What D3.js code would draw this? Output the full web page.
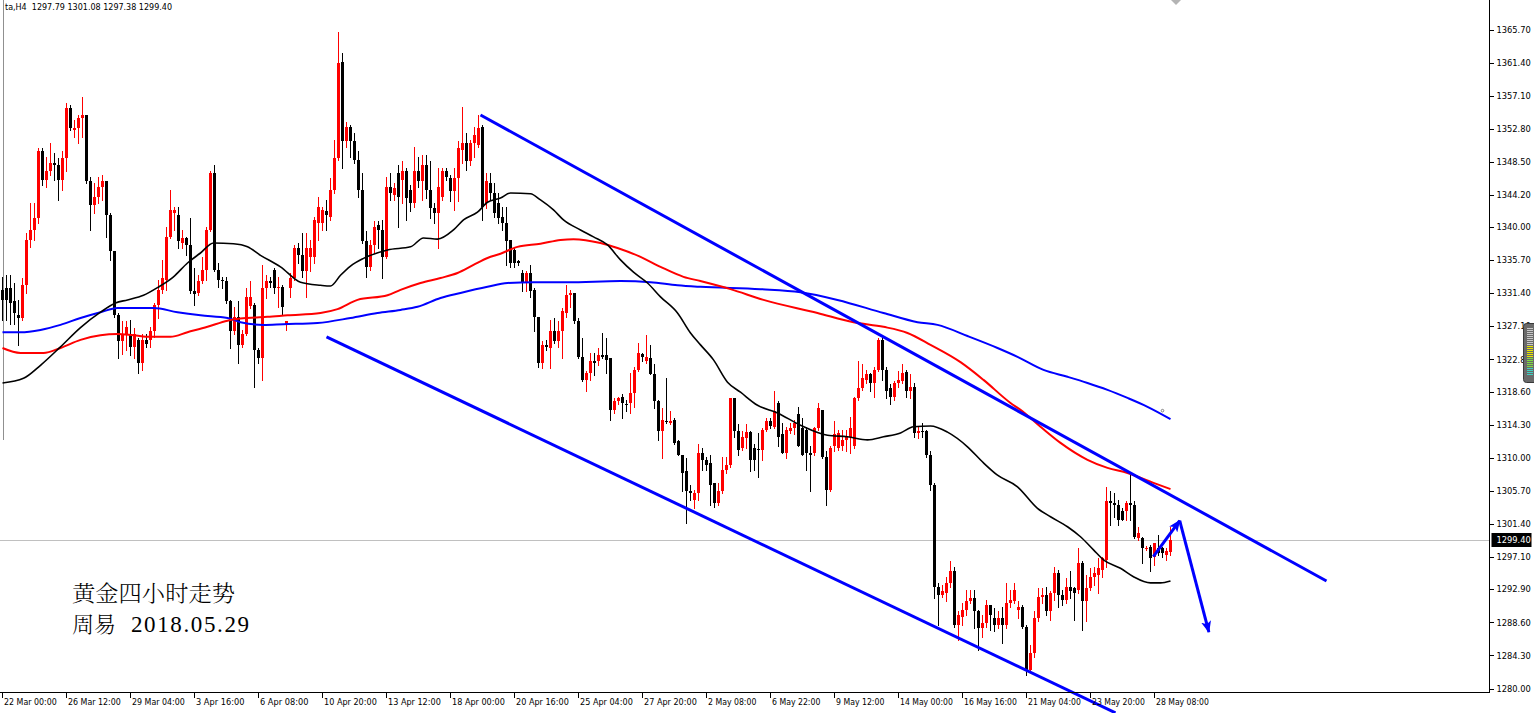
<!DOCTYPE html>
<html><head><meta charset="utf-8">
<script src="https://cdn.jsdelivr.net/npm/d3@7"></script>
<style>
html,body{margin:0;padding:0;background:#fff;overflow:hidden;}
svg{display:block;}
</style></head><body>
<svg id="c" width="1534" height="713"></svg>
<script>
// ---------------- data ----------------
const header = "ta,H4  1297.79 1301.08 1297.38 1299.40";
const timeLabels = ["22 Mar 00:00","26 Mar 12:00","29 Mar 04:00","3 Apr 16:00","6 Apr 08:00","10 Apr 20:00","13 Apr 12:00","18 Apr 00:00","20 Apr 16:00","25 Apr 04:00","27 Apr 20:00","2 May 08:00","6 May 22:00","9 May 12:00","14 May 00:00","16 May 16:00","21 May 04:00","23 May 20:00","28 May 08:00"];
const priceTicks = [1365.70,1361.40,1357.10,1352.80,1348.50,1344.20,1340.00,1335.70,1331.40,1327.10,1322.80,1318.60,1314.30,1310.00,1305.70,1301.40,1297.10,1292.90,1288.60,1284.30,1280.00];
const lastPrice = 1299.40;
// candles: [open, high, low, close], H4 bars
const candles = [
[1331.9,1333.6,1328.0,1330.6],[1332.1,1333.8,1328.0,1330.6],[1332.1,1333.8,1327.5,1330.2],[1330.4,1332.8,1327.5,1328.9],[1328.6,1330.6,1324.7,1328.2],
[1328.2,1333.4,1328.0,1332.5],[1332.5,1339.3,1331.5,1338.4],[1338.4,1343.2,1337.5,1339.7],[1339.7,1343.2,1338.4,1341.2],[1341.2,1350.3,1340.6,1349.9],
[1349.9,1350.3,1345.5,1346.2],[1346.2,1349.2,1345.3,1347.3],[1347.3,1351.0,1346.8,1348.4],[1348.4,1349.7,1346.2,1348.1],[1348.1,1349.0,1343.6,1346.2],
[1346.2,1349.9,1344.9,1349.0],[1349.0,1356.2,1347.3,1355.5],[1355.5,1355.9,1352.7,1352.9],[1352.7,1354.0,1351.8,1352.9],[1352.9,1354.6,1351.0,1354.2],
[1354.2,1357.0,1351.8,1354.6],[1354.6,1354.6,1345.8,1346.0],[1346.0,1346.6,1339.7,1342.9],[1342.9,1345.8,1341.9,1344.0],[1344.0,1346.6,1343.2,1345.3],
[1345.3,1346.8,1343.6,1346.0],[1346.0,1346.0,1338.8,1341.6],[1341.6,1341.9,1335.8,1336.9],[1336.9,1336.9,1328.4,1328.6],[1328.6,1328.9,1323.0,1325.2],
[1325.2,1327.8,1323.6,1326.2],[1326.0,1327.8,1324.1,1327.1],[1326.0,1328.0,1323.4,1324.5],[1324.5,1326.9,1323.0,1326.2],[1325.4,1325.6,1321.1,1322.4],
[1322.4,1326.2,1321.5,1325.4],[1325.4,1326.2,1324.5,1324.9],[1325.4,1327.1,1324.5,1326.5],[1326.5,1330.2,1325.8,1329.9],[1329.9,1333.2,1328.2,1331.9],
[1331.9,1335.8,1331.5,1333.4],[1333.2,1340.1,1331.9,1338.8],[1338.8,1344.9,1338.6,1342.3],[1341.9,1342.7,1339.7,1342.3],[1341.6,1342.7,1337.3,1338.2],
[1338.0,1339.7,1337.3,1338.6],[1338.6,1338.8,1336.4,1337.7],[1337.7,1341.2,1331.5,1331.7],[1331.7,1334.7,1329.9,1331.4],[1331.5,1333.8,1331.2,1333.0],
[1333.0,1336.2,1332.8,1334.5],[1334.5,1340.1,1333.2,1339.7],[1339.7,1347.3,1339.5,1347.1],[1347.1,1348.1,1334.3,1334.5],[1334.5,1335.4,1332.3,1333.2],
[1333.2,1333.6,1332.1,1333.0],[1333.0,1333.6,1330.2,1330.4],[1330.4,1330.6,1324.3,1326.5],[1326.5,1329.7,1326.2,1328.4],[1328.4,1330.4,1322.4,1324.7],
[1324.7,1326.7,1324.5,1326.2],[1326.2,1332.1,1326.0,1331.0],[1329.8,1333.0,1329.5,1331.0],[1329.9,1330.2,1319.3,1324.1],[1324.1,1324.3,1322.4,1323.0],
[1323.0,1335.1,1320.2,1332.1],[1332.1,1333.8,1330.8,1333.0],[1333.0,1333.6,1332.3,1332.8],[1334.5,1334.7,1331.5,1332.1],[1332.1,1333.6,1329.7,1332.3],
[1332.3,1332.5,1328.6,1329.7],[1327.5,1327.8,1326.7,1327.8],[1332.1,1334.1,1331.0,1333.4],[1333.4,1337.7,1333.2,1337.3],[1337.3,1338.0,1335.4,1336.4],
[1336.4,1339.3,1333.6,1334.3],[1334.3,1339.3,1331.0,1337.3],[1336.2,1338.4,1334.3,1337.3],[1336.2,1341.4,1335.4,1341.0],[1340.6,1344.0,1338.4,1342.7],
[1340.6,1342.7,1339.7,1342.3],[1342.1,1343.6,1339.7,1341.6],[1341.4,1346.4,1341.0,1344.9],[1344.9,1351.4,1344.5,1349.0],[1349.0,1365.5,1348.8,1361.4],
[1361.6,1362.7,1347.7,1351.2],[1351.2,1353.8,1350.5,1353.1],[1353.1,1353.3,1349.2,1351.2],[1351.2,1352.3,1348.4,1348.8],[1348.8,1349.9,1344.0,1344.9],
[1344.9,1347.1,1338.0,1338.2],[1338.2,1339.5,1333.6,1334.9],[1334.9,1338.4,1334.5,1337.7],[1337.7,1340.8,1336.7,1340.1],[1340.3,1340.8,1337.3,1339.7],
[1339.7,1341.0,1333.4,1336.2],[1336.2,1346.6,1336.0,1345.3],[1345.3,1347.1,1343.6,1344.5],[1344.2,1345.8,1343.6,1345.1],[1347.1,1348.1,1340.1,1344.0],
[1346.2,1348.6,1343.2,1347.3],[1347.3,1347.7,1341.0,1343.8],[1344.9,1345.5,1342.1,1343.2],[1343.2,1350.5,1342.7,1347.3],[1347.3,1349.2,1345.3,1346.0],
[1346.0,1349.4,1343.6,1348.1],[1348.1,1349.4,1343.8,1344.9],[1344.9,1348.6,1341.2,1342.5],[1342.5,1343.2,1340.6,1341.9],[1341.9,1347.7,1337.3,1345.3],
[1344.0,1347.7,1343.6,1347.3],[1347.3,1347.7,1346.2,1346.6],[1346.4,1346.8,1343.4,1344.7],[1344.7,1347.7,1342.3,1346.4],[1346.4,1351.2,1343.4,1350.3],
[1350.1,1355.7,1348.4,1351.0],[1351.0,1352.3,1347.5,1348.6],[1348.6,1351.4,1348.1,1351.0],[1351.0,1353.1,1349.2,1352.0],[1350.7,1354.6,1350.5,1352.9],
[1353.1,1353.3,1341.0,1342.7],[1343.2,1347.1,1342.5,1346.0],[1345.8,1347.1,1343.6,1344.5],[1344.5,1345.8,1341.4,1341.9],[1343.2,1344.5,1340.6,1341.2],
[1341.4,1342.7,1339.7,1340.6],[1340.6,1342.7,1335.1,1338.2],[1338.4,1338.4,1334.9,1335.4],[1337.1,1337.3,1334.9,1335.4],[1335.6,1335.8,1335.1,1335.4],
[1334.1,1334.5,1331.7,1332.8],[1332.8,1334.3,1331.7,1334.1],[1334.1,1335.1,1331.0,1331.7],[1331.9,1332.1,1326.5,1328.4],[1328.4,1328.4,1321.9,1322.4],
[1322.4,1325.2,1321.7,1324.7],[1324.7,1325.4,1324.1,1324.5],[1324.3,1328.0,1321.7,1326.5],[1326.5,1328.2,1325.0,1325.2],[1325.2,1327.8,1324.5,1326.5],
[1326.5,1329.5,1323.0,1329.1],[1328.9,1332.5,1328.4,1331.2],[1331.2,1331.9,1329.7,1331.5],[1331.5,1331.5,1327.6,1327.8],[1327.8,1328.2,1323.0,1323.2],
[1323.2,1325.6,1320.0,1320.2],[1320.2,1321.3,1318.7,1321.1],[1321.1,1323.7,1320.2,1322.6],[1322.6,1323.7,1320.8,1322.4],[1322.6,1324.3,1322.1,1323.4],
[1323.4,1326.3,1323.0,1323.2],[1323.4,1325.6,1321.1,1322.8],[1323.0,1323.0,1315.0,1316.3],[1316.3,1317.8,1315.9,1317.4],[1317.4,1318.0,1317.0,1317.9],
[1318.0,1318.3,1315.2,1317.2],[1317.1,1317.6,1316.1,1317.0],[1317.2,1321.1,1315.9,1318.5],[1318.5,1321.9,1316.7,1321.5],[1321.5,1325.0,1321.3,1323.7],
[1323.6,1323.7,1322.6,1323.2],[1322.6,1326.1,1322.4,1323.2],[1323.0,1324.8,1320.9,1320.9],[1321.0,1322.2,1316.5,1317.4],[1317.4,1317.6,1312.4,1313.5],
[1313.5,1316.5,1310.0,1315.0],[1314.9,1320.4,1314.6,1314.7],[1314.6,1316.1,1314.4,1314.9],[1315.0,1315.2,1311.8,1312.0],[1312.2,1312.4,1310.4,1310.4],
[1310.4,1310.4,1305.7,1308.1],[1308.3,1310.0,1301.6,1305.7],[1305.7,1306.5,1304.6,1305.5],[1304.6,1305.9,1303.5,1305.5],[1305.5,1311.8,1304.6,1310.7],
[1310.7,1311.3,1308.5,1309.8],[1309.8,1310.2,1308.5,1309.1],[1309.4,1310.4,1303.9,1306.5],[1306.8,1306.8,1303.7,1304.2],[1304.2,1306.8,1303.9,1305.7],
[1305.7,1310.2,1305.5,1308.5],[1308.5,1310.2,1308.1,1309.1],[1309.1,1317.9,1308.9,1317.8],[1317.8,1317.8,1312.8,1313.5],[1313.5,1314.4,1310.4,1311.1],
[1311.3,1313.5,1311.1,1312.8],[1312.6,1314.4,1311.3,1313.4],[1313.4,1313.5,1308.3,1309.8],[1311.3,1311.8,1308.5,1309.8],[1311.2,1313.3,1307.6,1311.1],
[1311.1,1313.9,1309.8,1313.7],[1313.7,1315.2,1313.5,1314.8],[1314.9,1315.2,1313.9,1314.2],[1314.1,1318.7,1313.9,1316.1],[1317.2,1317.4,1311.6,1312.8],
[1313.1,1314.6,1310.7,1310.7],[1310.7,1314.1,1310.0,1313.7],[1313.5,1314.6,1313.3,1313.9],[1313.9,1315.0,1313.1,1314.6],[1315.7,1316.7,1311.6,1311.6],
[1313.9,1315.2,1310.4,1310.4],[1313.7,1314.1,1308.5,1310.7],[1310.7,1311.6,1305.7,1310.4],[1310.7,1314.1,1310.4,1313.9],[1313.9,1317.2,1313.7,1316.5],
[1316.3,1316.3,1310.0,1310.2],[1310.2,1310.9,1303.9,1305.9],[1305.9,1311.6,1305.7,1311.3],[1311.6,1314.8,1310.9,1313.1],[1311.3,1313.7,1311.1,1313.3],
[1311.6,1313.7,1311.1,1312.4],[1312.4,1313.7,1310.9,1312.8],[1312.8,1315.4,1310.7,1313.9],[1311.6,1318.0,1311.3,1317.8],[1317.8,1322.6,1317.6,1319.1],
[1319.1,1322.2,1318.9,1320.4],[1320.2,1321.5,1319.8,1320.9],[1320.9,1321.1,1318.7,1319.8],[1319.8,1321.9,1318.0,1321.5],[1321.5,1325.6,1321.3,1325.4],
[1325.4,1325.6,1320.2,1321.5],[1321.5,1321.9,1317.8,1318.7],[1319.1,1319.6,1317.0,1318.0],[1318.0,1320.0,1317.6,1319.8],[1319.8,1321.3,1319.3,1320.2],
[1320.0,1322.2,1319.8,1321.1],[1321.2,1321.5,1318.0,1318.7],[1318.7,1320.9,1317.8,1319.3],[1319.3,1319.8,1312.8,1313.3],[1313.3,1314.1,1312.6,1313.5],
[1313.5,1314.6,1312.8,1313.4],[1313.5,1313.7,1310.2,1310.4],[1310.4,1310.9,1305.9,1306.5],[1306.5,1306.8,1291.8,1293.3],[1293.3,1293.8,1288.3,1292.2],
[1292.2,1293.5,1292.0,1292.7],[1292.5,1294.6,1291.4,1293.8],[1293.8,1296.6,1293.3,1295.3],[1295.3,1295.9,1288.1,1288.3],[1288.3,1290.1,1286.4,1289.6],
[1289.4,1291.2,1288.3,1290.3],[1290.3,1292.9,1289.6,1291.4],[1291.4,1292.9,1291.2,1291.8],[1291.8,1292.9,1287.9,1290.1],[1290.1,1290.3,1285.1,1287.9],
[1287.9,1289.6,1286.8,1288.6],[1288.6,1291.6,1288.1,1290.9],[1290.9,1290.9,1287.7,1289.6],[1289.2,1290.5,1287.5,1288.3],[1288.3,1290.1,1287.9,1289.2],
[1289.2,1290.7,1286.0,1288.3],[1288.3,1293.8,1287.9,1291.2],[1291.2,1292.9,1290.7,1291.6],[1291.4,1293.8,1291.2,1292.9],[1290.3,1291.4,1289.2,1290.7],
[1290.7,1290.9,1287.9,1288.1],[1288.1,1288.3,1281.8,1282.5],[1282.5,1285.7,1282.3,1284.7],[1284.7,1290.1,1284.2,1289.2],[1289.2,1293.1,1288.8,1292.0],
[1292.0,1293.1,1291.2,1292.2],[1292.2,1293.3,1289.6,1290.1],[1290.1,1292.7,1289.0,1292.5],[1292.5,1295.9,1291.6,1295.1],[1295.1,1295.5,1290.7,1292.2],
[1292.2,1292.9,1290.9,1291.6],[1291.6,1294.4,1291.2,1293.3],[1293.3,1295.3,1291.8,1292.7],[1293.1,1293.3,1289.0,1292.5],[1292.9,1298.3,1292.5,1296.4],
[1296.4,1296.6,1287.7,1291.4],[1291.4,1294.8,1288.8,1293.1],[1293.1,1295.7,1292.9,1294.6],[1294.6,1295.9,1293.5,1295.1],[1294.8,1297.0,1292.5,1295.7],
[1295.5,1297.2,1294.6,1297.0],[1296.8,1306.3,1295.9,1304.4],[1304.4,1305.7,1301.3,1304.2],[1304.2,1305.5,1302.4,1303.9],[1303.9,1304.6,1301.3,1302.0],
[1303.1,1303.5,1302.0,1302.0],[1303.1,1304.4,1302.0,1304.2],[1304.2,1308.0,1302.0,1303.9],[1303.9,1304.4,1299.6,1299.8],[1299.7,1301.1,1299.4,1300.3],
[1299.6,1299.8,1296.4,1298.3],[1298.3,1298.6,1298.1,1298.4],[1298.5,1298.7,1295.3,1297.0],[1297.2,1299.0,1296.1,1299.0],[1298.3,1300.0,1297.4,1297.7],
[1298.3,1298.5,1297.2,1297.7],[1297.4,1298.3,1296.8,1297.9],[1297.79,1301.08,1297.38,1299.40]
];
// moving averages: [bar index, price]
const maFast = [[0,1319.8],[5.25,1320.4],[9.5,1322.1],[14.5,1324.5],[19.5,1327.0],[24.5,1329.0],[28.25,1330.2],[31.25,1330.6],[35.25,1331.2],[38.75,1332.2],[42.75,1333.6],[46.25,1335.4],[49.5,1336.7],[52.75,1338.0],[57.75,1337.9],[61.25,1337.5],[64.5,1336.4],[69.5,1334.9],[74.5,1332.9],[79.5,1332.5],[82,1332.4],[84.5,1333.8],[87,1335.0],[90.25,1336.0],[96.25,1337.1],[102,1337.5],[105.25,1338.65],[108.75,1338.5],[112.75,1339.7],[115.25,1341.0],[118.75,1342.0],[121.25,1343.3],[124.5,1343.85],[127,1344.5],[132,1344.4],[134.5,1343.6],[137.75,1342.3],[140.25,1341.0],[144.5,1339.7],[147.75,1338.8],[151.25,1337.75],[154.5,1335.8],[157.75,1334.2],[161.25,1332.8],[164.5,1331.0],[168.75,1328.9],[172,1326.3],[174.5,1324.75],[177.75,1322.8],[181.25,1319.9],[184.5,1318.6],[188.75,1316.9],[193.75,1315.9],[199.5,1314.3],[206.25,1313.0],[211.25,1312.8],[216.25,1312.4],[220.25,1312.8],[224.5,1313.3],[227.75,1314.1],[232,1314.2],[236.25,1313.4],[241.25,1311.5],[245.25,1309.4],[248.75,1307.8],[253.75,1306.3],[258.75,1303.5],[262,1302.4],[266.25,1301.1],[269.5,1299.8],[272.75,1298.1],[275.25,1296.8],[279.5,1295.7],[282.75,1294.6],[287,1293.8],[289.5,1293.8],[292,1294.05]];
const maMid = [[0,1324.35],[4.5,1323.7],[10.25,1323.7],[14.5,1324.35],[19.5,1325.4],[24.5,1326.0],[28.75,1326.15],[32.75,1326.0],[37,1325.8],[42,1325.8],[46.25,1326.4],[51.25,1327.1],[56.25,1327.9],[61.25,1328.25],[66.25,1328.4],[71.25,1328.6],[79.5,1328.9],[83.75,1329.4],[88.75,1330.6],[96.25,1331.2],[99.5,1331.9],[104.5,1332.8],[109.5,1333.45],[113.75,1334.1],[117.75,1335.15],[121.25,1336.05],[124.5,1336.6],[128.75,1337.5],[134.5,1337.9],[139.5,1338.4],[142.75,1338.5],[149.5,1338.0],[153.75,1337.35],[159.5,1336.2],[164.5,1334.9],[170.25,1333.6],[174.5,1333.05],[182,1332.0],[190.25,1330.6],[203.75,1328.9],[212.75,1327.7],[220.25,1327.1],[226.25,1326.3],[232,1324.75],[239.5,1322.5],[245.25,1320.2],[252,1317.2],[254.5,1316.3],[259.5,1314.1],[264.5,1312.0],[271.25,1309.8],[276.25,1308.75],[281.25,1308.1],[287.75,1306.8],[292,1306.0]];
const maSlow = [[0,1326.4],[4.5,1326.4],[9.5,1326.7],[14.5,1327.35],[19.5,1328.25],[24.5,1329.0],[28.75,1329.55],[37.75,1329.55],[43.75,1329.0],[49.5,1328.6],[56.25,1328.25],[59.5,1327.7],[65.25,1327.35],[70.25,1327.45],[78.75,1327.6],[87,1328.25],[93.75,1328.9],[99.5,1329.3],[103.75,1329.7],[109.5,1330.85],[114.5,1331.5],[121.25,1332.3],[126.25,1332.8],[132.75,1332.9],[141.25,1332.9],[154.5,1333.05],[162,1332.9],[168.75,1332.5],[174.5,1332.3],[189.5,1332.0],[199.5,1331.6],[208.75,1330.6],[220.25,1328.9],[228.75,1327.7],[233.75,1327.35],[241.25,1325.9],[248.75,1324.35],[253.75,1323.2],[260.25,1321.5],[266.25,1320.6],[271.25,1319.8],[276.25,1318.9],[281.25,1317.85],[286.25,1316.7],[292,1315.1]];
// drawn objects: [bar index, price]
const upperChannel = [[119.5,1354.65],[331,1294.05]];
const lowerChannel = [[81,1325.8],[278.25,1276.9]];
const arrowUp = [[287.7,1297.2],[294.3,1301.9]];
const arrowDown = [[294.3,1301.9],[301.6,1287.4]];
const noteLines = ["黄金四小时走势","周易","2018.05.29"];

// ---------------- drawing ----------------
const svg = d3.select("#c");
const W = 1534, H = 713, plotRight = 1489.5, plotBottom = 692.5;
const x = d3.scaleLinear().domain([0, 1]).range([2.5, 6.5]);
const y = d3.scaleLinear().domain([1280, 1365.7]).range([689, 30]);
const RED = "#FF0000", BLUE = "#0000FF";

svg.append("rect").attr("width", W).attr("height", H).attr("fill", "#fff");

// left window edge
svg.append("line").attr("x1", 3.5).attr("x2", 3.5).attr("y1", 0).attr("y2", 440)
  .attr("stroke", "#909090").attr("stroke-width", 1);

// current price line
const yp = Math.round(y(lastPrice)) + 0.5;
svg.append("line").attr("x1", 0).attr("x2", plotRight).attr("y1", yp).attr("y2", yp)
  .attr("stroke", "#c0c0c0").attr("stroke-width", 1);

// candles
const gC = svg.append("g").attr("shape-rendering", "crispEdges");
const col = d => d[3] >= d[0] ? RED : "#000";
gC.selectAll("rect.w").data(candles).join("rect").attr("class", "w")
  .attr("x", (d, i) => x(i) - 0.5).attr("width", 1)
  .attr("y", d => Math.round(y(d[1])))
  .attr("height", d => Math.max(1, Math.round(y(d[2])) - Math.round(y(d[1])) + 1))
  .attr("fill", col);
gC.selectAll("rect.b").data(candles).join("rect").attr("class", "b")
  .attr("x", (d, i) => x(i) - 1.5).attr("width", 3)
  .attr("y", d => Math.round(y(Math.max(d[0], d[3]))))
  .attr("height", d => Math.max(1, Math.round(y(Math.min(d[0], d[3]))) - Math.round(y(Math.max(d[0], d[3])))))
  .attr("fill", col);

// moving averages
const maLine = d3.line().x(d => x(d[0])).y(d => y(d[1])).curve(d3.curveMonotoneX);
svg.append("path").attr("d", maLine(maSlow)).attr("fill", "none").attr("stroke", BLUE).attr("stroke-width", 2);
svg.append("path").attr("d", maLine(maMid)).attr("fill", "none").attr("stroke", RED).attr("stroke-width", 2);
svg.append("path").attr("d", maLine(maFast)).attr("fill", "none").attr("stroke", "#000").attr("stroke-width", 1.6);
svg.append("circle").attr("cx", x(290)).attr("cy", y(1316.2)).attr("r", 1.3)
  .attr("fill", "none").attr("stroke", "#666").attr("stroke-width", 0.8);

// trend channel lines
const straight = d3.line().x(d => x(d[0])).y(d => y(d[1]));
[upperChannel, lowerChannel].forEach(l => {
  svg.append("path").attr("d", straight(l)).attr("fill", "none").attr("stroke", BLUE).attr("stroke-width", 3);
});

// arrows
const defs = svg.append("defs");
defs.append("marker").attr("id", "ah").attr("viewBox", "0 0 12 10").attr("refX", 11).attr("refY", 5)
  .attr("markerWidth", 12).attr("markerHeight", 10).attr("markerUnits", "userSpaceOnUse").attr("orient", "auto")
  .append("path").attr("d", "M0,0 L12,5 L0,10 L3,5 Z").attr("fill", BLUE);
[arrowUp, arrowDown].forEach(l => {
  svg.append("path").attr("d", straight(l)).attr("fill", "none").attr("stroke", BLUE)
    .attr("stroke-width", 3).attr("marker-end", "url(#ah)");
});

// frame
svg.append("line").attr("x1", 0).attr("x2", plotRight + 0.5).attr("y1", plotBottom).attr("y2", plotBottom).attr("stroke", "#000");
svg.append("line").attr("x1", plotRight).attr("x2", plotRight).attr("y1", 0).attr("y2", plotBottom).attr("stroke", "#000");

// right price axis
const axR = d3.axisRight(y).tickValues(priceTicks).tickFormat(d3.format(".2f")).tickSize(4).tickPadding(3).offset(0);
const gR = svg.append("g").attr("transform", `translate(${plotRight},0)`).call(axR);
gR.select(".domain").remove();
gR.selectAll(".tick line").attr("stroke", "#000").attr("shape-rendering", "crispEdges");
gR.selectAll("text").attr("font-family", "DejaVu Sans, sans-serif").attr("font-size", 8.3).attr("fill", "#000");

// last price label
svg.append("rect").attr("x", plotRight + 2).attr("y", yp - 7.5).attr("width", 40).attr("height", 14).attr("fill", "#000");
svg.append("text").attr("x", plotRight + 7).attr("y", yp).attr("dy", "0.35em")
  .attr("font-family", "DejaVu Sans, sans-serif").attr("font-size", 8.3).attr("fill", "#fff")
  .text(d3.format(".2f")(lastPrice));

// bottom time axis
const axB = d3.axisBottom(x).tickValues(d3.range(0, candles.length - 4, 16))
  .tickFormat((d, i) => timeLabels[i]).tickSize(5).tickPadding(1).offset(0);
const gB = svg.append("g").attr("transform", `translate(0,${plotBottom})`).call(axB);
gB.select(".domain").remove();
gB.selectAll(".tick line").attr("stroke", "#000").attr("shape-rendering", "crispEdges");
gB.selectAll("text").attr("font-family", "DejaVu Sans, sans-serif").attr("font-size", 9)
  .attr("fill", "#000").attr("text-anchor", "start").attr("x", 1.5)
  .each(function () {
    const n = this.textContent.length;
    d3.select(this).attr("textLength", n * 4.4).attr("lengthAdjust", "spacingAndGlyphs");
  });

// header
svg.append("text").attr("x", 5).attr("y", 10).attr("font-family", "DejaVu Sans, sans-serif")
  .attr("font-size", 8.3).attr("fill", "#000").attr("xml:space", "preserve").style("white-space", "pre")
  .attr("textLength", 167).attr("lengthAdjust", "spacingAndGlyphs")
  .text(header);

// chart-shift marker and side widget
svg.append("polygon").attr("points", "1171,0 1181,0 1176,5").attr("fill", "#b4b4b4");
const wg = svg.append("g");
wg.append("rect").attr("x", 1523.5).attr("y", 323.5).attr("width", 14).attr("height", 59).attr("rx", 3)
  .attr("fill", "#6a6a6a").attr("stroke", "#3a3a3a");
for (let k = 0; k < 24; k++) {
  const c = k < 9 ? "#c8c8c8" : (k < 15 ? "#e6e600" : (k < 20 ? "#7fdc40" : "#40d0c0"));
  wg.append("rect").attr("x", 1527).attr("y", 328 + k * 2).attr("width", 6).attr("height", 1).attr("fill", c);
}

// annotation text
svg.append("text").attr("x", 72).attr("y", 601).attr("font-family", "Noto Serif CJK SC, Noto Sans CJK SC, sans-serif")
  .attr("font-size", 22).attr("font-weight", 300).attr("fill", "#000").attr("textLength", 163).attr("lengthAdjust", "spacingAndGlyphs")
  .text(noteLines[0]);
svg.append("text").attr("x", 72).attr("y", 632).attr("font-family", "Noto Serif CJK SC, Noto Sans CJK SC, sans-serif")
  .attr("font-size", 22).attr("font-weight", 300).attr("fill", "#000").text(noteLines[1]);
svg.append("text").attr("x", 131).attr("y", 632).attr("font-family", "Liberation Serif, serif")
  .attr("font-size", 23).attr("fill", "#000").attr("textLength", 118).attr("lengthAdjust", "spacing")
  .text(noteLines[2]);
</script>
</body></html>
